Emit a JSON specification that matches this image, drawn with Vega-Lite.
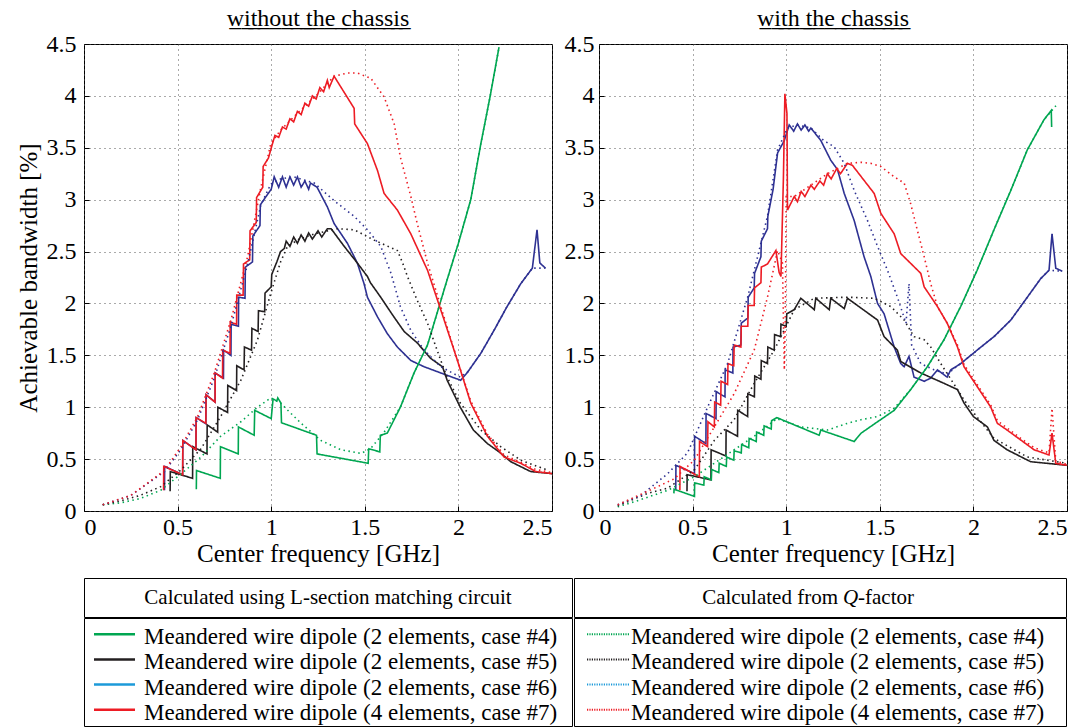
{
"$schema": "https://vega.github.io/schema/vega-lite/v6.json",
"padding": {"left": 15, "top": 6, "right": 0, "bottom": 0},
"config": {
 "font": "Liberation Serif",
 "view": {"stroke": "black", "strokeWidth": 1},
 "axis": {"labelFont": "Liberation Serif", "labelFontSize": 24, "labelColor": "black", "titleFont": "Liberation Serif", "titleFontSize": 25, "titleFontWeight": "normal", "titleColor": "black", "gridColor": "#555", "gridDash": [1, 4], "gridOpacity": 1, "gridWidth": 1, "ticks": true, "tickSize": -5, "tickColor": "black", "tickWidth": 1, "domain": false},
 "title": {"font": "Liberation Serif", "fontSize": 24, "fontWeight": "normal", "color": "black", "offset": 1},
 "text": {"font": "Liberation Serif", "color": "black"}
},
"datasets": {
 "curves": [
{"p":"without","s":"L6","f":0.43,"b":0.2},{"p":"without","s":"L6","f":0.431,"b":0.43},{"p":"without","s":"L6","f":0.527,"b":0.35},{"p":"without","s":"L6","f":0.528,"b":0.68},{"p":"without","s":"L6","f":0.598,"b":0.59},{"p":"without","s":"L6","f":0.599,"b":0.9},{"p":"without","s":"L6","f":0.651,"b":0.84},{"p":"without","s":"L6","f":0.652,"b":1.12},{"p":"without","s":"L6","f":0.7,"b":1.05},{"p":"without","s":"L6","f":0.701,"b":1.33},{"p":"without","s":"L6","f":0.745,"b":1.28},{"p":"without","s":"L6","f":0.746,"b":1.55},{"p":"without","s":"L6","f":0.785,"b":1.5},{"p":"without","s":"L6","f":0.786,"b":1.8},{"p":"without","s":"L6","f":0.825,"b":1.78},{"p":"without","s":"L6","f":0.826,"b":2.06},{"p":"without","s":"L6","f":0.86,"b":2.05},{"p":"without","s":"L6","f":0.862,"b":2.35},{"p":"without","s":"L6","f":0.9,"b":2.4},{"p":"without","s":"L6","f":0.902,"b":2.65},{"p":"without","s":"L6","f":0.94,"b":2.75},{"p":"without","s":"L6","f":0.942,"b":2.95},{"p":"without","s":"L6","f":0.98,"b":3.05},{"p":"without","s":"L6","f":1.0,"b":3.1},{"p":"without","s":"L6","f":1.016,"b":3.22},{"p":"without","s":"L6","f":1.04,"b":3.12},{"p":"without","s":"L6","f":1.06,"b":3.22},{"p":"without","s":"L6","f":1.08,"b":3.12},{"p":"without","s":"L6","f":1.1,"b":3.22},{"p":"without","s":"L6","f":1.12,"b":3.14},{"p":"without","s":"L6","f":1.14,"b":3.22},{"p":"without","s":"L6","f":1.16,"b":3.12},{"p":"without","s":"L6","f":1.18,"b":3.18},{"p":"without","s":"L6","f":1.2,"b":3.1},{"p":"without","s":"L6","f":1.21,"b":3.16},{"p":"without","s":"L6","f":1.245,"b":3.12},{"p":"without","s":"L6","f":1.3,"b":2.93},{"p":"without","s":"L6","f":1.336,"b":2.77},{"p":"without","s":"L6","f":1.407,"b":2.58},{"p":"without","s":"L6","f":1.46,"b":2.39},{"p":"without","s":"L6","f":1.496,"b":2.19},{"p":"without","s":"L6","f":1.514,"b":2.06},{"p":"without","s":"L6","f":1.568,"b":1.87},{"p":"without","s":"L6","f":1.62,"b":1.71},{"p":"without","s":"L6","f":1.674,"b":1.58},{"p":"without","s":"L6","f":1.746,"b":1.45},{"p":"without","s":"L6","f":1.817,"b":1.39},{"p":"without","s":"L6","f":1.906,"b":1.33},{"p":"without","s":"L6","f":2.012,"b":1.26},{"p":"without","s":"L6","f":2.05,"b":1.34},{"p":"without","s":"L6","f":2.12,"b":1.52},{"p":"without","s":"L6","f":2.19,"b":1.74},{"p":"without","s":"L6","f":2.26,"b":1.97},{"p":"without","s":"L6","f":2.333,"b":2.19},{"p":"without","s":"L6","f":2.395,"b":2.34},{"p":"without","s":"L6","f":2.42,"b":2.71},{"p":"without","s":"L6","f":2.435,"b":2.39},{"p":"without","s":"L6","f":2.465,"b":2.34},
{"p":"without","s":"L5","f":0.46,"b":0.19},{"p":"without","s":"L5","f":0.461,"b":0.38},{"p":"without","s":"L5","f":0.58,"b":0.315},{"p":"without","s":"L5","f":0.581,"b":0.62},{"p":"without","s":"L5","f":0.657,"b":0.55},{"p":"without","s":"L5","f":0.658,"b":0.83},{"p":"without","s":"L5","f":0.714,"b":0.76},{"p":"without","s":"L5","f":0.715,"b":1.0},{"p":"without","s":"L5","f":0.767,"b":0.95},{"p":"without","s":"L5","f":0.768,"b":1.21},{"p":"without","s":"L5","f":0.815,"b":1.16},{"p":"without","s":"L5","f":0.816,"b":1.4},{"p":"without","s":"L5","f":0.855,"b":1.36},{"p":"without","s":"L5","f":0.857,"b":1.58},{"p":"without","s":"L5","f":0.895,"b":1.55},{"p":"without","s":"L5","f":0.897,"b":1.76},{"p":"without","s":"L5","f":0.93,"b":1.73},{"p":"without","s":"L5","f":0.932,"b":1.93},{"p":"without","s":"L5","f":0.965,"b":1.92},{"p":"without","s":"L5","f":0.967,"b":2.1},{"p":"without","s":"L5","f":1.0,"b":2.16},{"p":"without","s":"L5","f":1.003,"b":2.28},{"p":"without","s":"L5","f":1.03,"b":2.4},{"p":"without","s":"L5","f":1.05,"b":2.5},{"p":"without","s":"L5","f":1.07,"b":2.53},{"p":"without","s":"L5","f":1.08,"b":2.6},{"p":"without","s":"L5","f":1.1,"b":2.55},{"p":"without","s":"L5","f":1.12,"b":2.64},{"p":"without","s":"L5","f":1.14,"b":2.58},{"p":"without","s":"L5","f":1.16,"b":2.66},{"p":"without","s":"L5","f":1.18,"b":2.6},{"p":"without","s":"L5","f":1.2,"b":2.68},{"p":"without","s":"L5","f":1.22,"b":2.62},{"p":"without","s":"L5","f":1.25,"b":2.7},{"p":"without","s":"L5","f":1.27,"b":2.64},{"p":"without","s":"L5","f":1.3,"b":2.72},{"p":"without","s":"L5","f":1.32,"b":2.72},{"p":"without","s":"L5","f":1.39,"b":2.55},{"p":"without","s":"L5","f":1.46,"b":2.39},{"p":"without","s":"L5","f":1.514,"b":2.26},{"p":"without","s":"L5","f":1.53,"b":2.2},{"p":"without","s":"L5","f":1.585,"b":2.06},{"p":"without","s":"L5","f":1.648,"b":1.89},{"p":"without","s":"L5","f":1.71,"b":1.73},{"p":"without","s":"L5","f":1.78,"b":1.62},{"p":"without","s":"L5","f":1.852,"b":1.47},{"p":"without","s":"L5","f":1.915,"b":1.39},{"p":"without","s":"L5","f":1.94,"b":1.26},{"p":"without","s":"L5","f":2.01,"b":1.0},{"p":"without","s":"L5","f":2.08,"b":0.78},{"p":"without","s":"L5","f":2.155,"b":0.65},{"p":"without","s":"L5","f":2.217,"b":0.57},{"p":"without","s":"L5","f":2.28,"b":0.475},{"p":"without","s":"L5","f":2.386,"b":0.38},{"p":"without","s":"L5","f":2.5,"b":0.36},
{"p":"without","s":"L4","f":0.6,"b":0.21},{"p":"without","s":"L4","f":0.601,"b":0.39},{"p":"without","s":"L4","f":0.728,"b":0.315},{"p":"without","s":"L4","f":0.729,"b":0.62},{"p":"without","s":"L4","f":0.824,"b":0.55},{"p":"without","s":"L4","f":0.825,"b":0.81},{"p":"without","s":"L4","f":0.909,"b":0.73},{"p":"without","s":"L4","f":0.912,"b":0.97},{"p":"without","s":"L4","f":1.0,"b":0.89},{"p":"without","s":"L4","f":1.01,"b":1.08},{"p":"without","s":"L4","f":1.03,"b":1.06},{"p":"without","s":"L4","f":1.035,"b":1.09},{"p":"without","s":"L4","f":1.052,"b":1.04},{"p":"without","s":"L4","f":1.055,"b":0.85},{"p":"without","s":"L4","f":1.242,"b":0.73},{"p":"without","s":"L4","f":1.245,"b":0.55},{"p":"without","s":"L4","f":1.518,"b":0.46},{"p":"without","s":"L4","f":1.521,"b":0.6},{"p":"without","s":"L4","f":1.58,"b":0.57},{"p":"without","s":"L4","f":1.583,"b":0.73},{"p":"without","s":"L4","f":1.62,"b":0.75},{"p":"without","s":"L4","f":1.69,"b":1.0},{"p":"without","s":"L4","f":1.763,"b":1.33},{"p":"without","s":"L4","f":1.835,"b":1.6},{"p":"without","s":"L4","f":1.87,"b":1.81},{"p":"without","s":"L4","f":1.935,"b":2.2},{"p":"without","s":"L4","f":2.0,"b":2.58},{"p":"without","s":"L4","f":2.066,"b":3.0},{"p":"without","s":"L4","f":2.12,"b":3.54},{"p":"without","s":"L4","f":2.17,"b":4.0},{"p":"without","s":"L4","f":2.217,"b":4.47},
{"p":"without","s":"L7","f":0.425,"b":0.2},{"p":"without","s":"L7","f":0.426,"b":0.43},{"p":"without","s":"L7","f":0.527,"b":0.35},{"p":"without","s":"L7","f":0.528,"b":0.68},{"p":"without","s":"L7","f":0.598,"b":0.59},{"p":"without","s":"L7","f":0.599,"b":0.9},{"p":"without","s":"L7","f":0.651,"b":0.845},{"p":"without","s":"L7","f":0.652,"b":1.12},{"p":"without","s":"L7","f":0.7,"b":1.05},{"p":"without","s":"L7","f":0.701,"b":1.33},{"p":"without","s":"L7","f":0.74,"b":1.28},{"p":"without","s":"L7","f":0.741,"b":1.55},{"p":"without","s":"L7","f":0.78,"b":1.52},{"p":"without","s":"L7","f":0.781,"b":1.82},{"p":"without","s":"L7","f":0.815,"b":1.8},{"p":"without","s":"L7","f":0.816,"b":2.08},{"p":"without","s":"L7","f":0.85,"b":2.08},{"p":"without","s":"L7","f":0.852,"b":2.38},{"p":"without","s":"L7","f":0.885,"b":2.42},{"p":"without","s":"L7","f":0.887,"b":2.7},{"p":"without","s":"L7","f":0.92,"b":2.78},{"p":"without","s":"L7","f":0.922,"b":3.02},{"p":"without","s":"L7","f":0.955,"b":3.12},{"p":"without","s":"L7","f":0.957,"b":3.32},{"p":"without","s":"L7","f":0.985,"b":3.4},{"p":"without","s":"L7","f":1.007,"b":3.54},{"p":"without","s":"L7","f":1.02,"b":3.62},{"p":"without","s":"L7","f":1.04,"b":3.6},{"p":"without","s":"L7","f":1.06,"b":3.7},{"p":"without","s":"L7","f":1.08,"b":3.68},{"p":"without","s":"L7","f":1.1,"b":3.78},{"p":"without","s":"L7","f":1.12,"b":3.75},{"p":"without","s":"L7","f":1.14,"b":3.85},{"p":"without","s":"L7","f":1.16,"b":3.82},{"p":"without","s":"L7","f":1.18,"b":3.93},{"p":"without","s":"L7","f":1.2,"b":3.9},{"p":"without","s":"L7","f":1.22,"b":4.0},{"p":"without","s":"L7","f":1.24,"b":3.97},{"p":"without","s":"L7","f":1.26,"b":4.08},{"p":"without","s":"L7","f":1.28,"b":4.04},{"p":"without","s":"L7","f":1.3,"b":4.15},{"p":"without","s":"L7","f":1.31,"b":4.08},{"p":"without","s":"L7","f":1.336,"b":4.19},{"p":"without","s":"L7","f":1.443,"b":3.88},{"p":"without","s":"L7","f":1.446,"b":3.73},{"p":"without","s":"L7","f":1.514,"b":3.54},{"p":"without","s":"L7","f":1.568,"b":3.28},{"p":"without","s":"L7","f":1.603,"b":3.06},{"p":"without","s":"L7","f":1.674,"b":2.9},{"p":"without","s":"L7","f":1.746,"b":2.67},{"p":"without","s":"L7","f":1.835,"b":2.32},{"p":"without","s":"L7","f":1.924,"b":1.84},{"p":"without","s":"L7","f":1.995,"b":1.45},{"p":"without","s":"L7","f":2.066,"b":1.04},{"p":"without","s":"L7","f":2.155,"b":0.72},{"p":"without","s":"L7","f":2.244,"b":0.52},{"p":"without","s":"L7","f":2.333,"b":0.46},{"p":"without","s":"L7","f":2.413,"b":0.38},{"p":"without","s":"L7","f":2.5,"b":0.36},
{"p":"without","s":"Q4","f":0.1,"b":0.06},{"p":"without","s":"Q4","f":0.2,"b":0.08},{"p":"without","s":"Q4","f":0.3,"b":0.12},{"p":"without","s":"Q4","f":0.41,"b":0.2},{"p":"without","s":"Q4","f":0.52,"b":0.36},{"p":"without","s":"Q4","f":0.625,"b":0.52},{"p":"without","s":"Q4","f":0.73,"b":0.72},{"p":"without","s":"Q4","f":0.838,"b":0.86},{"p":"without","s":"Q4","f":0.927,"b":1.0},{"p":"without","s":"Q4","f":0.998,"b":1.09},{"p":"without","s":"Q4","f":1.05,"b":1.04},{"p":"without","s":"Q4","f":1.1,"b":0.95},{"p":"without","s":"Q4","f":1.16,"b":0.845},{"p":"without","s":"Q4","f":1.265,"b":0.68},{"p":"without","s":"Q4","f":1.372,"b":0.59},{"p":"without","s":"Q4","f":1.48,"b":0.555},{"p":"without","s":"Q4","f":1.53,"b":0.6},{"p":"without","s":"Q4","f":1.6,"b":0.75},{"p":"without","s":"Q4","f":1.69,"b":1.0},{"p":"without","s":"Q4","f":1.763,"b":1.33},{"p":"without","s":"Q4","f":1.835,"b":1.6},{"p":"without","s":"Q4","f":1.87,"b":1.81},{"p":"without","s":"Q4","f":1.935,"b":2.2},{"p":"without","s":"Q4","f":2.0,"b":2.58},{"p":"without","s":"Q4","f":2.066,"b":3.0},{"p":"without","s":"Q4","f":2.12,"b":3.54},{"p":"without","s":"Q4","f":2.17,"b":4.0},{"p":"without","s":"Q4","f":2.217,"b":4.47},
{"p":"without","s":"Q5","f":0.1,"b":0.06},{"p":"without","s":"Q5","f":0.2,"b":0.1},{"p":"without","s":"Q5","f":0.3,"b":0.15},{"p":"without","s":"Q5","f":0.41,"b":0.235},{"p":"without","s":"Q5","f":0.518,"b":0.395},{"p":"without","s":"Q5","f":0.625,"b":0.6},{"p":"without","s":"Q5","f":0.73,"b":0.91},{"p":"without","s":"Q5","f":0.838,"b":1.26},{"p":"without","s":"Q5","f":0.927,"b":1.65},{"p":"without","s":"Q5","f":0.998,"b":2.1},{"p":"without","s":"Q5","f":1.05,"b":2.4},{"p":"without","s":"Q5","f":1.087,"b":2.55},{"p":"without","s":"Q5","f":1.15,"b":2.62},{"p":"without","s":"Q5","f":1.23,"b":2.67},{"p":"without","s":"Q5","f":1.354,"b":2.72},{"p":"without","s":"Q5","f":1.443,"b":2.71},{"p":"without","s":"Q5","f":1.55,"b":2.61},{"p":"without","s":"Q5","f":1.674,"b":2.51},{"p":"without","s":"Q5","f":1.7,"b":2.4},{"p":"without","s":"Q5","f":1.728,"b":2.26},{"p":"without","s":"Q5","f":1.78,"b":2.03},{"p":"without","s":"Q5","f":1.835,"b":1.81},{"p":"without","s":"Q5","f":1.906,"b":1.45},{"p":"without","s":"Q5","f":1.94,"b":1.29},{"p":"without","s":"Q5","f":2.01,"b":1.04},{"p":"without","s":"Q5","f":2.12,"b":0.78},{"p":"without","s":"Q5","f":2.226,"b":0.62},{"p":"without","s":"Q5","f":2.333,"b":0.49},{"p":"without","s":"Q5","f":2.475,"b":0.395},
{"p":"without","s":"Q6","f":0.1,"b":0.06},{"p":"without","s":"Q6","f":0.25,"b":0.15},{"p":"without","s":"Q6","f":0.43,"b":0.38},{"p":"without","s":"Q6","f":0.52,"b":0.6},{"p":"without","s":"Q6","f":0.607,"b":0.88},{"p":"without","s":"Q6","f":0.696,"b":1.28},{"p":"without","s":"Q6","f":0.785,"b":1.78},{"p":"without","s":"Q6","f":0.874,"b":2.38},{"p":"without","s":"Q6","f":0.945,"b":2.95},{"p":"without","s":"Q6","f":0.998,"b":3.15},{"p":"without","s":"Q6","f":1.05,"b":3.2},{"p":"without","s":"Q6","f":1.12,"b":3.22},{"p":"without","s":"Q6","f":1.23,"b":3.16},{"p":"without","s":"Q6","f":1.336,"b":2.99},{"p":"without","s":"Q6","f":1.443,"b":2.84},{"p":"without","s":"Q6","f":1.514,"b":2.71},{"p":"without","s":"Q6","f":1.585,"b":2.55},{"p":"without","s":"Q6","f":1.64,"b":2.29},{"p":"without","s":"Q6","f":1.69,"b":1.97},{"p":"without","s":"Q6","f":1.746,"b":1.74},{"p":"without","s":"Q6","f":1.817,"b":1.55},{"p":"without","s":"Q6","f":1.906,"b":1.39},{"p":"without","s":"Q6","f":2.01,"b":1.29},{"p":"without","s":"Q6","f":2.05,"b":1.34},{"p":"without","s":"Q6","f":2.12,"b":1.52},{"p":"without","s":"Q6","f":2.19,"b":1.74},{"p":"without","s":"Q6","f":2.26,"b":1.97},{"p":"without","s":"Q6","f":2.333,"b":2.19},{"p":"without","s":"Q6","f":2.395,"b":2.34},{"p":"without","s":"Q6","f":2.465,"b":2.34},
{"p":"without","s":"Q7","f":0.1,"b":0.06},{"p":"without","s":"Q7","f":0.25,"b":0.15},{"p":"without","s":"Q7","f":0.43,"b":0.39},{"p":"without","s":"Q7","f":0.518,"b":0.62},{"p":"without","s":"Q7","f":0.607,"b":0.91},{"p":"without","s":"Q7","f":0.696,"b":1.33},{"p":"without","s":"Q7","f":0.785,"b":1.84},{"p":"without","s":"Q7","f":0.874,"b":2.45},{"p":"without","s":"Q7","f":0.945,"b":3.12},{"p":"without","s":"Q7","f":0.998,"b":3.54},{"p":"without","s":"Q7","f":1.05,"b":3.67},{"p":"without","s":"Q7","f":1.15,"b":3.85},{"p":"without","s":"Q7","f":1.25,"b":4.02},{"p":"without","s":"Q7","f":1.336,"b":4.19},{"p":"without","s":"Q7","f":1.408,"b":4.22},{"p":"without","s":"Q7","f":1.46,"b":4.22},{"p":"without","s":"Q7","f":1.532,"b":4.17},{"p":"without","s":"Q7","f":1.603,"b":3.99},{"p":"without","s":"Q7","f":1.657,"b":3.73},{"p":"without","s":"Q7","f":1.69,"b":3.41},{"p":"without","s":"Q7","f":1.746,"b":3.03},{"p":"without","s":"Q7","f":1.78,"b":2.77},{"p":"without","s":"Q7","f":1.835,"b":2.39},{"p":"without","s":"Q7","f":1.906,"b":1.97},{"p":"without","s":"Q7","f":1.995,"b":1.45},{"p":"without","s":"Q7","f":2.066,"b":1.06},{"p":"without","s":"Q7","f":2.155,"b":0.74},{"p":"without","s":"Q7","f":2.244,"b":0.54},{"p":"without","s":"Q7","f":2.333,"b":0.47},{"p":"without","s":"Q7","f":2.413,"b":0.4},{"p":"without","s":"Q7","f":2.5,"b":0.37},
{"p":"with","s":"L6","f":0.41,"b":0.2},{"p":"with","s":"L6","f":0.411,"b":0.44},{"p":"with","s":"L6","f":0.51,"b":0.36},{"p":"with","s":"L6","f":0.511,"b":0.72},{"p":"with","s":"L6","f":0.571,"b":0.65},{"p":"with","s":"L6","f":0.572,"b":0.94},{"p":"with","s":"L6","f":0.625,"b":0.89},{"p":"with","s":"L6","f":0.626,"b":1.15},{"p":"with","s":"L6","f":0.673,"b":1.1},{"p":"with","s":"L6","f":0.674,"b":1.36},{"p":"with","s":"L6","f":0.715,"b":1.33},{"p":"with","s":"L6","f":0.716,"b":1.58},{"p":"with","s":"L6","f":0.758,"b":1.6},{"p":"with","s":"L6","f":0.76,"b":1.81},{"p":"with","s":"L6","f":0.795,"b":1.86},{"p":"with","s":"L6","f":0.797,"b":2.06},{"p":"with","s":"L6","f":0.829,"b":2.15},{"p":"with","s":"L6","f":0.831,"b":2.29},{"p":"with","s":"L6","f":0.865,"b":2.45},{"p":"with","s":"L6","f":0.867,"b":2.6},{"p":"with","s":"L6","f":0.9,"b":2.72},{"p":"with","s":"L6","f":0.902,"b":2.84},{"p":"with","s":"L6","f":0.93,"b":3.1},{"p":"with","s":"L6","f":0.954,"b":3.45},{"p":"with","s":"L6","f":0.99,"b":3.57},{"p":"with","s":"L6","f":1.016,"b":3.72},{"p":"with","s":"L6","f":1.04,"b":3.66},{"p":"with","s":"L6","f":1.06,"b":3.73},{"p":"with","s":"L6","f":1.08,"b":3.67},{"p":"with","s":"L6","f":1.1,"b":3.72},{"p":"with","s":"L6","f":1.12,"b":3.66},{"p":"with","s":"L6","f":1.132,"b":3.69},{"p":"with","s":"L6","f":1.185,"b":3.57},{"p":"with","s":"L6","f":1.238,"b":3.38},{"p":"with","s":"L6","f":1.274,"b":3.29},{"p":"with","s":"L6","f":1.31,"b":3.06},{"p":"with","s":"L6","f":1.363,"b":2.8},{"p":"with","s":"L6","f":1.416,"b":2.45},{"p":"with","s":"L6","f":1.452,"b":2.26},{"p":"with","s":"L6","f":1.488,"b":2.0},{"p":"with","s":"L6","f":1.523,"b":1.9},{"p":"with","s":"L6","f":1.577,"b":1.58},{"p":"with","s":"L6","f":1.612,"b":1.42},{"p":"with","s":"L6","f":1.63,"b":1.39},{"p":"with","s":"L6","f":1.656,"b":1.49},{"p":"with","s":"L6","f":1.683,"b":1.29},{"p":"with","s":"L6","f":1.737,"b":1.25},{"p":"with","s":"L6","f":1.772,"b":1.28},{"p":"with","s":"L6","f":1.808,"b":1.36},{"p":"with","s":"L6","f":1.86,"b":1.29},{"p":"with","s":"L6","f":1.879,"b":1.36},{"p":"with","s":"L6","f":1.932,"b":1.42},{"p":"with","s":"L6","f":2.02,"b":1.55},{"p":"with","s":"L6","f":2.11,"b":1.68},{"p":"with","s":"L6","f":2.2,"b":1.84},{"p":"with","s":"L6","f":2.288,"b":2.06},{"p":"with","s":"L6","f":2.36,"b":2.24},{"p":"with","s":"L6","f":2.404,"b":2.32},{"p":"with","s":"L6","f":2.42,"b":2.67},{"p":"with","s":"L6","f":2.44,"b":2.34},{"p":"with","s":"L6","f":2.475,"b":2.31},
{"p":"with","s":"L5","f":0.47,"b":0.19},{"p":"with","s":"L5","f":0.471,"b":0.35},{"p":"with","s":"L5","f":0.598,"b":0.3},{"p":"with","s":"L5","f":0.599,"b":0.59},{"p":"with","s":"L5","f":0.678,"b":0.53},{"p":"with","s":"L5","f":0.679,"b":0.78},{"p":"with","s":"L5","f":0.74,"b":0.72},{"p":"with","s":"L5","f":0.741,"b":0.97},{"p":"with","s":"L5","f":0.794,"b":0.91},{"p":"with","s":"L5","f":0.795,"b":1.13},{"p":"with","s":"L5","f":0.83,"b":1.1},{"p":"with","s":"L5","f":0.832,"b":1.3},{"p":"with","s":"L5","f":0.865,"b":1.27},{"p":"with","s":"L5","f":0.867,"b":1.45},{"p":"with","s":"L5","f":0.9,"b":1.42},{"p":"with","s":"L5","f":0.902,"b":1.58},{"p":"with","s":"L5","f":0.936,"b":1.55},{"p":"with","s":"L5","f":0.938,"b":1.7},{"p":"with","s":"L5","f":0.97,"b":1.68},{"p":"with","s":"L5","f":0.972,"b":1.8},{"p":"with","s":"L5","f":1.0,"b":1.78},{"p":"with","s":"L5","f":1.003,"b":1.9},{"p":"with","s":"L5","f":1.043,"b":1.94},{"p":"with","s":"L5","f":1.078,"b":2.05},{"p":"with","s":"L5","f":1.15,"b":1.94},{"p":"with","s":"L5","f":1.158,"b":2.05},{"p":"with","s":"L5","f":1.23,"b":1.94},{"p":"with","s":"L5","f":1.238,"b":2.05},{"p":"with","s":"L5","f":1.31,"b":1.95},{"p":"with","s":"L5","f":1.327,"b":2.05},{"p":"with","s":"L5","f":1.488,"b":1.84},{"p":"with","s":"L5","f":1.523,"b":1.68},{"p":"with","s":"L5","f":1.594,"b":1.55},{"p":"with","s":"L5","f":1.612,"b":1.44},{"p":"with","s":"L5","f":1.719,"b":1.33},{"p":"with","s":"L5","f":1.843,"b":1.23},{"p":"with","s":"L5","f":1.915,"b":1.17},{"p":"with","s":"L5","f":1.95,"b":1.04},{"p":"with","s":"L5","f":2.0,"b":0.91},{"p":"with","s":"L5","f":2.075,"b":0.81},{"p":"with","s":"L5","f":2.11,"b":0.68},{"p":"with","s":"L5","f":2.18,"b":0.59},{"p":"with","s":"L5","f":2.306,"b":0.475},{"p":"with","s":"L5","f":2.5,"b":0.44},
{"p":"with","s":"L4","f":0.4,"b":0.17},{"p":"with","s":"L4","f":0.401,"b":0.21},{"p":"with","s":"L4","f":0.51,"b":0.14},{"p":"with","s":"L4","f":0.511,"b":0.27},{"p":"with","s":"L4","f":0.56,"b":0.25},{"p":"with","s":"L4","f":0.562,"b":0.33},{"p":"with","s":"L4","f":0.6,"b":0.3},{"p":"with","s":"L4","f":0.602,"b":0.4},{"p":"with","s":"L4","f":0.64,"b":0.37},{"p":"with","s":"L4","f":0.642,"b":0.46},{"p":"with","s":"L4","f":0.68,"b":0.43},{"p":"with","s":"L4","f":0.682,"b":0.52},{"p":"with","s":"L4","f":0.72,"b":0.49},{"p":"with","s":"L4","f":0.722,"b":0.58},{"p":"with","s":"L4","f":0.76,"b":0.56},{"p":"with","s":"L4","f":0.762,"b":0.64},{"p":"with","s":"L4","f":0.8,"b":0.61},{"p":"with","s":"L4","f":0.802,"b":0.7},{"p":"with","s":"L4","f":0.84,"b":0.67},{"p":"with","s":"L4","f":0.842,"b":0.76},{"p":"with","s":"L4","f":0.88,"b":0.73},{"p":"with","s":"L4","f":0.882,"b":0.82},{"p":"with","s":"L4","f":0.92,"b":0.79},{"p":"with","s":"L4","f":0.922,"b":0.87},{"p":"with","s":"L4","f":0.95,"b":0.9},{"p":"with","s":"L4","f":1.043,"b":0.83},{"p":"with","s":"L4","f":1.176,"b":0.73},{"p":"with","s":"L4","f":1.185,"b":0.78},{"p":"with","s":"L4","f":1.363,"b":0.67},{"p":"with","s":"L4","f":1.4,"b":0.75},{"p":"with","s":"L4","f":1.488,"b":0.86},{"p":"with","s":"L4","f":1.577,"b":0.97},{"p":"with","s":"L4","f":1.665,"b":1.17},{"p":"with","s":"L4","f":1.754,"b":1.39},{"p":"with","s":"L4","f":1.843,"b":1.65},{"p":"with","s":"L4","f":1.932,"b":1.97},{"p":"with","s":"L4","f":2.02,"b":2.32},{"p":"with","s":"L4","f":2.11,"b":2.71},{"p":"with","s":"L4","f":2.2,"b":3.09},{"p":"with","s":"L4","f":2.288,"b":3.48},{"p":"with","s":"L4","f":2.377,"b":3.77},{"p":"with","s":"L4","f":2.416,"b":3.86},{"p":"with","s":"L4","f":2.418,"b":3.7},
{"p":"with","s":"L7","f":0.432,"b":0.2},{"p":"with","s":"L7","f":0.433,"b":0.43},{"p":"with","s":"L7","f":0.536,"b":0.33},{"p":"with","s":"L7","f":0.537,"b":0.67},{"p":"with","s":"L7","f":0.58,"b":0.62},{"p":"with","s":"L7","f":0.582,"b":0.86},{"p":"with","s":"L7","f":0.616,"b":0.81},{"p":"with","s":"L7","f":0.618,"b":1.05},{"p":"with","s":"L7","f":0.65,"b":1.02},{"p":"with","s":"L7","f":0.652,"b":1.25},{"p":"with","s":"L7","f":0.687,"b":1.22},{"p":"with","s":"L7","f":0.689,"b":1.42},{"p":"with","s":"L7","f":0.72,"b":1.4},{"p":"with","s":"L7","f":0.722,"b":1.6},{"p":"with","s":"L7","f":0.758,"b":1.58},{"p":"with","s":"L7","f":0.76,"b":1.78},{"p":"with","s":"L7","f":0.795,"b":1.78},{"p":"with","s":"L7","f":0.797,"b":1.98},{"p":"with","s":"L7","f":0.829,"b":1.98},{"p":"with","s":"L7","f":0.831,"b":2.15},{"p":"with","s":"L7","f":0.865,"b":2.2},{"p":"with","s":"L7","f":0.867,"b":2.35},{"p":"with","s":"L7","f":0.9,"b":2.38},{"p":"with","s":"L7","f":0.945,"b":2.51},{"p":"with","s":"L7","f":0.962,"b":2.3},{"p":"with","s":"L7","f":0.972,"b":2.26},{"p":"with","s":"L7","f":0.985,"b":3.2},{"p":"with","s":"L7","f":0.993,"b":4.02},{"p":"with","s":"L7","f":1.0,"b":3.9},{"p":"with","s":"L7","f":1.004,"b":3.83},{"p":"with","s":"L7","f":1.007,"b":2.9},{"p":"with","s":"L7","f":1.043,"b":3.03},{"p":"with","s":"L7","f":1.06,"b":2.98},{"p":"with","s":"L7","f":1.08,"b":3.08},{"p":"with","s":"L7","f":1.1,"b":3.03},{"p":"with","s":"L7","f":1.132,"b":3.14},{"p":"with","s":"L7","f":1.15,"b":3.1},{"p":"with","s":"L7","f":1.18,"b":3.18},{"p":"with","s":"L7","f":1.2,"b":3.14},{"p":"with","s":"L7","f":1.22,"b":3.25},{"p":"with","s":"L7","f":1.24,"b":3.2},{"p":"with","s":"L7","f":1.27,"b":3.3},{"p":"with","s":"L7","f":1.29,"b":3.25},{"p":"with","s":"L7","f":1.327,"b":3.35},{"p":"with","s":"L7","f":1.354,"b":3.33},{"p":"with","s":"L7","f":1.47,"b":3.06},{"p":"with","s":"L7","f":1.505,"b":2.87},{"p":"with","s":"L7","f":1.577,"b":2.67},{"p":"with","s":"L7","f":1.612,"b":2.48},{"p":"with","s":"L7","f":1.719,"b":2.29},{"p":"with","s":"L7","f":1.737,"b":2.16},{"p":"with","s":"L7","f":1.808,"b":1.97},{"p":"with","s":"L7","f":1.86,"b":1.81},{"p":"with","s":"L7","f":1.915,"b":1.58},{"p":"with","s":"L7","f":1.95,"b":1.39},{"p":"with","s":"L7","f":2.02,"b":1.2},{"p":"with","s":"L7","f":2.093,"b":1.0},{"p":"with","s":"L7","f":2.128,"b":0.845},{"p":"with","s":"L7","f":2.18,"b":0.78},{"p":"with","s":"L7","f":2.253,"b":0.684},{"p":"with","s":"L7","f":2.324,"b":0.59},{"p":"with","s":"L7","f":2.404,"b":0.54},{"p":"with","s":"L7","f":2.42,"b":0.75},{"p":"with","s":"L7","f":2.44,"b":0.46},{"p":"with","s":"L7","f":2.5,"b":0.44},
{"p":"with","s":"Q4","f":0.1,"b":0.04},{"p":"with","s":"Q4","f":0.224,"b":0.11},{"p":"with","s":"Q4","f":0.367,"b":0.2},{"p":"with","s":"Q4","f":0.509,"b":0.33},{"p":"with","s":"Q4","f":0.616,"b":0.46},{"p":"with","s":"Q4","f":0.722,"b":0.59},{"p":"with","s":"Q4","f":0.829,"b":0.72},{"p":"with","s":"Q4","f":0.95,"b":0.89},{"p":"with","s":"Q4","f":1.078,"b":0.81},{"p":"with","s":"Q4","f":1.22,"b":0.78},{"p":"with","s":"Q4","f":1.327,"b":0.845},{"p":"with","s":"Q4","f":1.4,"b":0.88},{"p":"with","s":"Q4","f":1.488,"b":0.91},{"p":"with","s":"Q4","f":1.577,"b":0.99},{"p":"with","s":"Q4","f":1.665,"b":1.17},{"p":"with","s":"Q4","f":1.754,"b":1.39},{"p":"with","s":"Q4","f":1.843,"b":1.65},{"p":"with","s":"Q4","f":1.932,"b":1.97},{"p":"with","s":"Q4","f":2.02,"b":2.32},{"p":"with","s":"Q4","f":2.11,"b":2.71},{"p":"with","s":"Q4","f":2.2,"b":3.09},{"p":"with","s":"Q4","f":2.288,"b":3.48},{"p":"with","s":"Q4","f":2.377,"b":3.77},{"p":"with","s":"Q4","f":2.443,"b":3.91},
{"p":"with","s":"Q5","f":0.1,"b":0.05},{"p":"with","s":"Q5","f":0.26,"b":0.17},{"p":"with","s":"Q5","f":0.367,"b":0.22},{"p":"with","s":"Q5","f":0.509,"b":0.395},{"p":"with","s":"Q5","f":0.616,"b":0.68},{"p":"with","s":"Q5","f":0.722,"b":0.88},{"p":"with","s":"Q5","f":0.829,"b":1.23},{"p":"with","s":"Q5","f":0.936,"b":1.55},{"p":"with","s":"Q5","f":1.043,"b":1.94},{"p":"with","s":"Q5","f":1.15,"b":2.05},{"p":"with","s":"Q5","f":1.327,"b":2.06},{"p":"with","s":"Q5","f":1.47,"b":2.05},{"p":"with","s":"Q5","f":1.559,"b":1.97},{"p":"with","s":"Q5","f":1.63,"b":1.84},{"p":"with","s":"Q5","f":1.683,"b":1.68},{"p":"with","s":"Q5","f":1.737,"b":1.65},{"p":"with","s":"Q5","f":1.772,"b":1.58},{"p":"with","s":"Q5","f":1.826,"b":1.42},{"p":"with","s":"Q5","f":1.915,"b":1.17},{"p":"with","s":"Q5","f":1.95,"b":1.07},{"p":"with","s":"Q5","f":2.0,"b":0.95},{"p":"with","s":"Q5","f":2.11,"b":0.7},{"p":"with","s":"Q5","f":2.288,"b":0.52},{"p":"with","s":"Q5","f":2.5,"b":0.46},
{"p":"with","s":"Q6","f":0.1,"b":0.06},{"p":"with","s":"Q6","f":0.224,"b":0.15},{"p":"with","s":"Q6","f":0.367,"b":0.36},{"p":"with","s":"Q6","f":0.473,"b":0.56},{"p":"with","s":"Q6","f":0.58,"b":1.0},{"p":"with","s":"Q6","f":0.687,"b":1.42},{"p":"with","s":"Q6","f":0.794,"b":2.06},{"p":"with","s":"Q6","f":0.9,"b":2.84},{"p":"with","s":"Q6","f":0.954,"b":3.48},{"p":"with","s":"Q6","f":1.007,"b":3.69},{"p":"with","s":"Q6","f":1.06,"b":3.72},{"p":"with","s":"Q6","f":1.132,"b":3.69},{"p":"with","s":"Q6","f":1.2,"b":3.57},{"p":"with","s":"Q6","f":1.256,"b":3.51},{"p":"with","s":"Q6","f":1.31,"b":3.35},{"p":"with","s":"Q6","f":1.363,"b":3.09},{"p":"with","s":"Q6","f":1.434,"b":2.8},{"p":"with","s":"Q6","f":1.488,"b":2.55},{"p":"with","s":"Q6","f":1.541,"b":2.32},{"p":"with","s":"Q6","f":1.594,"b":2.06},{"p":"with","s":"Q6","f":1.64,"b":1.81},{"p":"with","s":"Q6","f":1.656,"b":2.19},{"p":"with","s":"Q6","f":1.67,"b":1.6},{"p":"with","s":"Q6","f":1.719,"b":1.42},{"p":"with","s":"Q6","f":1.79,"b":1.36},{"p":"with","s":"Q6","f":1.86,"b":1.32},{"p":"with","s":"Q6","f":1.932,"b":1.42},{"p":"with","s":"Q6","f":2.02,"b":1.55},{"p":"with","s":"Q6","f":2.11,"b":1.68},{"p":"with","s":"Q6","f":2.2,"b":1.84},{"p":"with","s":"Q6","f":2.288,"b":2.06},{"p":"with","s":"Q6","f":2.36,"b":2.24},{"p":"with","s":"Q6","f":2.404,"b":2.32},{"p":"with","s":"Q6","f":2.475,"b":2.31},
{"p":"with","s":"Q7","f":0.1,"b":0.06},{"p":"with","s":"Q7","f":0.26,"b":0.19},{"p":"with","s":"Q7","f":0.402,"b":0.31},{"p":"with","s":"Q7","f":0.509,"b":0.49},{"p":"with","s":"Q7","f":0.616,"b":0.81},{"p":"with","s":"Q7","f":0.722,"b":1.13},{"p":"with","s":"Q7","f":0.829,"b":1.55},{"p":"with","s":"Q7","f":0.9,"b":2.06},{"p":"with","s":"Q7","f":0.954,"b":2.51},{"p":"with","s":"Q7","f":0.98,"b":2.39},{"p":"with","s":"Q7","f":0.99,"b":1.36},{"p":"with","s":"Q7","f":0.995,"b":1.8},{"p":"with","s":"Q7","f":1.0,"b":3.03},{"p":"with","s":"Q7","f":1.043,"b":3.03},{"p":"with","s":"Q7","f":1.132,"b":3.14},{"p":"with","s":"Q7","f":1.22,"b":3.25},{"p":"with","s":"Q7","f":1.327,"b":3.35},{"p":"with","s":"Q7","f":1.4,"b":3.36},{"p":"with","s":"Q7","f":1.452,"b":3.35},{"p":"with","s":"Q7","f":1.505,"b":3.32},{"p":"with","s":"Q7","f":1.577,"b":3.22},{"p":"with","s":"Q7","f":1.63,"b":3.16},{"p":"with","s":"Q7","f":1.665,"b":2.96},{"p":"with","s":"Q7","f":1.7,"b":2.71},{"p":"with","s":"Q7","f":1.737,"b":2.45},{"p":"with","s":"Q7","f":1.772,"b":2.19},{"p":"with","s":"Q7","f":1.808,"b":1.97},{"p":"with","s":"Q7","f":1.86,"b":1.81},{"p":"with","s":"Q7","f":1.915,"b":1.6},{"p":"with","s":"Q7","f":1.95,"b":1.41},{"p":"with","s":"Q7","f":2.02,"b":1.22},{"p":"with","s":"Q7","f":2.093,"b":1.02},{"p":"with","s":"Q7","f":2.128,"b":0.87},{"p":"with","s":"Q7","f":2.18,"b":0.8},{"p":"with","s":"Q7","f":2.253,"b":0.7},{"p":"with","s":"Q7","f":2.324,"b":0.61},{"p":"with","s":"Q7","f":2.404,"b":0.56},{"p":"with","s":"Q7","f":2.42,"b":0.99},{"p":"with","s":"Q7","f":2.44,"b":0.48},{"p":"with","s":"Q7","f":2.5,"b":0.45}
 ],
 "leg": [
  {"case": "#4", "label": "Meandered wire dipole (2 elements, case #4)"},
  {"case": "#5", "label": "Meandered wire dipole (2 elements, case #5)"},
  {"case": "#6", "label": "Meandered wire dipole (2 elements, case #6)"},
  {"case": "#7", "label": "Meandered wire dipole (4 elements, case #7)"}
 ]
},
"spacing": 10,
"vconcat": [
 {
  "hconcat": [
   {
    "width": 468, "height": 467,
    "title": {"text": "w̲i̲t̲h̲o̲u̲t̲ ̲t̲h̲e̲ ̲c̲h̲a̲s̲s̲i̲s̲"},
    "data": {"name": "curves"},
    "transform": [{"filter": "datum.p === 'without'"}],
    "mark": {"type": "line", "strokeWidth": 1.6, "clip": true},
    "encoding": {
     "x": {"field": "f", "type": "quantitative", "scale": {"domain": [0, 2.5], "nice": false, "zero": false}, "axis": {"values": [0, 0.5, 1, 1.5, 2, 2.5], "format": "~g", "title": "Center frequency [GHz]", "labelPadding": 9, "titlePadding": 2}},
     "y": {"field": "b", "type": "quantitative", "scale": {"domain": [0, 4.5], "nice": false}, "axis": {"values": [0, 0.5, 1, 1.5, 2, 2.5, 3, 3.5, 4, 4.5], "format": "~g", "title": "Achievable bandwidth [%]", "labelPadding": 13, "titlePadding": 5}},
     "color": {"field": "s", "type": "nominal", "legend": null, "scale": {"domain": ["L4", "L5", "L6", "L7", "Q4", "Q5", "Q6", "Q7"], "range": ["#00a651", "#231f20", "#2e3192", "#ed1c24", "#00a651", "#231f20", "#2e3192", "#ed1c24"]}},
     "strokeDash": {"field": "s", "type": "nominal", "legend": null, "scale": {"domain": ["L4", "L5", "L6", "L7", "Q4", "Q5", "Q6", "Q7"], "range": [[1, 0], [1, 0], [1, 0], [1, 0], [1.5, 3.5], [1.5, 3.5], [1.5, 3.5], [1.5, 3.5]]}}
    }
   },
   {
    "width": 468, "height": 467,
    "title": {"text": "w̲i̲t̲h̲ ̲t̲h̲e̲ ̲c̲h̲a̲s̲s̲i̲s̲"},
    "data": {"name": "curves"},
    "transform": [{"filter": "datum.p === 'with'"}],
    "mark": {"type": "line", "strokeWidth": 1.6, "clip": true},
    "encoding": {
     "x": {"field": "f", "type": "quantitative", "scale": {"domain": [0, 2.5], "nice": false, "zero": false}, "axis": {"values": [0, 0.5, 1, 1.5, 2, 2.5], "format": "~g", "title": "Center frequency [GHz]", "labelPadding": 9, "titlePadding": 2}},
     "y": {"field": "b", "type": "quantitative", "scale": {"domain": [0, 4.5], "nice": false}, "axis": {"values": [0, 0.5, 1, 1.5, 2, 2.5, 3, 3.5, 4, 4.5], "format": "~g", "title": null, "labelPadding": 10}},
     "color": {"field": "s", "type": "nominal", "legend": null, "scale": {"domain": ["L4", "L5", "L6", "L7", "Q4", "Q5", "Q6", "Q7"], "range": ["#00a651", "#231f20", "#2e3192", "#ed1c24", "#00a651", "#231f20", "#2e3192", "#ed1c24"]}},
     "strokeDash": {"field": "s", "type": "nominal", "legend": null, "scale": {"domain": ["L4", "L5", "L6", "L7", "Q4", "Q5", "Q6", "Q7"], "range": [[1, 0], [1, 0], [1, 0], [1, 0], [1.5, 3.5], [1.5, 3.5], [1.5, 3.5], [1.5, 3.5]]}}
    }
   }
  ],
  "spacing": 47,
  "bounds": "flush"
 },
 {
  "spacing": -4,
  "vconcat": [
   {
    "spacing": 0,
    "hconcat": [
     {"width": 488, "height": 39, "view": {"stroke": "black", "strokeWidth": 1}, "data": {"values": [{"t": "Calculated using L-section matching circuit"}]}, "mark": {"type": "text", "fontSize": 21}, "encoding": {"text": {"field": "t"}}},
     {"width": 492, "height": 39, "view": {"stroke": "black", "strokeWidth": 1},
      "data": {"values": [{"a": "Calculated from", "q": "Q", "c": "-factor"}]},
      "layer": [
       {"mark": {"type": "text", "fontSize": 21, "align": "right", "dx": 18}, "encoding": {"text": {"field": "a"}}},
       {"mark": {"type": "text", "fontSize": 21, "align": "left", "dx": 23, "fontStyle": "italic"}, "encoding": {"text": {"field": "q"}}},
       {"mark": {"type": "text", "fontSize": 21, "align": "left", "dx": 38}, "encoding": {"text": {"field": "c"}}}
      ]
     }
    ]
   },
   {
    "spacing": 0,
    "hconcat": [
     {
      "width": 488, "height": 108,
      "data": {"name": "leg"},
      "encoding": {"y": {"field": "case", "type": "nominal", "axis": null, "scale": {"type": "point", "padding": 0.65}}},
      "layer": [
       {"mark": {"type": "rule", "strokeWidth": 2.5},
        "encoding": {"x": {"datum": "s0", "scale": {"type": "point", "domain": ["s0", "s1"], "range": [10, 51], "padding": 0}, "axis": null}, "x2": {"datum": "s1"},
         "stroke": {"field": "case", "type": "nominal", "legend": null, "scale": {"domain": ["#4", "#5", "#6", "#7"], "range": ["#00a651", "#231f20", "#1c9ad9", "#ed1c24"]}}}},
       {"mark": {"type": "text", "align": "left", "fontSize": 23, "dy": 3},
        "encoding": {"x": {"datum": "t", "scale": {"type": "point", "domain": ["t"], "range": [60, 60], "padding": 0}, "axis": null}, "text": {"field": "label"}}}
      ],
      "resolve": {"scale": {"x": "independent"}}
     },
     {
      "width": 492, "height": 108,
      "data": {"name": "leg"},
      "encoding": {"y": {"field": "case", "type": "nominal", "axis": null, "scale": {"type": "point", "padding": 0.65}}},
      "layer": [
       {"mark": {"type": "rule", "strokeWidth": 2, "strokeDash": [1.2, 1.2]},
        "encoding": {"x": {"datum": "s0", "scale": {"type": "point", "domain": ["s0", "s1"], "range": [13, 55], "padding": 0}, "axis": null}, "x2": {"datum": "s1"},
         "stroke": {"field": "case", "type": "nominal", "legend": null, "scale": {"domain": ["#4", "#5", "#6", "#7"], "range": ["#00a651", "#231f20", "#1c9ad9", "#ed1c24"]}}}},
       {"mark": {"type": "text", "align": "left", "fontSize": 23, "dy": 3},
        "encoding": {"x": {"datum": "t", "scale": {"type": "point", "domain": ["t"], "range": [57, 57], "padding": 0}, "axis": null}, "text": {"field": "label"}}}
      ],
      "resolve": {"scale": {"x": "independent"}}
     }
    ]
   }
  ]
 }
]
}
